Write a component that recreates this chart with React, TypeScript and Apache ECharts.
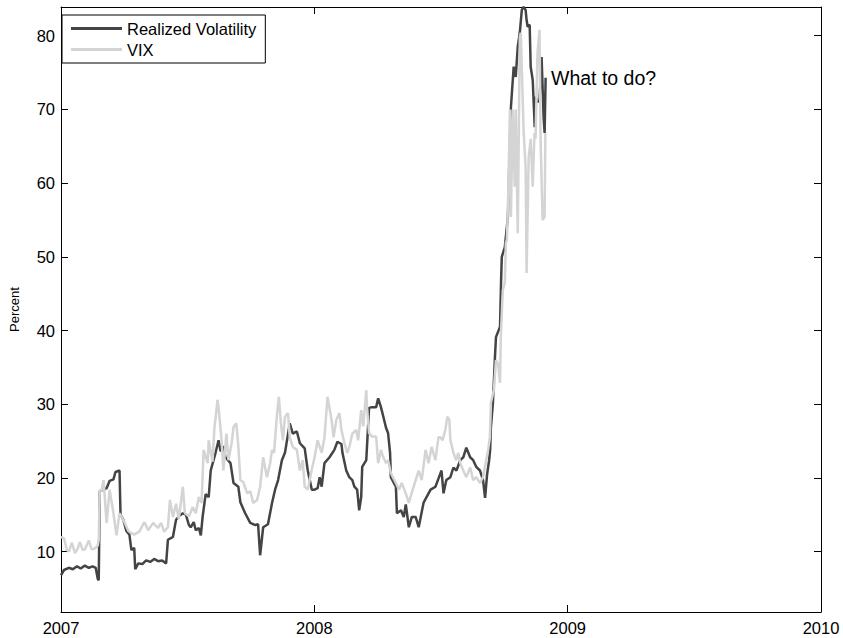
import React, { useEffect, useRef } from "react";
import * as echarts from "echarts";

const seriesNames = ["Realized Volatility", "VIX"];
const yTickValues = [10, 20, 30, 40, 50, 60, 70, 80];
const annotationText = "What to do?";
const yAxisTitle = "Percent";

// Realized volatility: time in decimal years, value in percent
const rvYears = [
  2007.0, 2007.012, 2007.031, 2007.047, 2007.063, 2007.078, 2007.094, 2007.11, 2007.125, 2007.137,
  2007.145, 2007.149, 2007.153, 2007.168, 2007.18, 2007.192, 2007.207, 2007.215, 2007.231, 2007.235,
  2007.246, 2007.258, 2007.27, 2007.278, 2007.289, 2007.293, 2007.305, 2007.321, 2007.336, 2007.352,
  2007.368, 2007.383, 2007.399, 2007.415, 2007.422, 2007.442, 2007.454, 2007.469, 2007.481, 2007.493,
  2007.505, 2007.512, 2007.524, 2007.532, 2007.544, 2007.552, 2007.559, 2007.571, 2007.583, 2007.591,
  2007.61, 2007.622, 2007.63, 2007.641, 2007.649, 2007.669, 2007.681, 2007.7, 2007.708, 2007.727,
  2007.747, 2007.767, 2007.778, 2007.786, 2007.798, 2007.817, 2007.833, 2007.845, 2007.857, 2007.872,
  2007.884, 2007.903, 2007.915, 2007.931, 2007.943, 2007.962, 2007.974, 2007.982, 2007.99, 2008.001,
  2008.013, 2008.021, 2008.029, 2008.04, 2008.06, 2008.079, 2008.091, 2008.107, 2008.111, 2008.126,
  2008.138, 2008.15, 2008.158, 2008.169, 2008.177, 2008.185, 2008.189, 2008.205, 2008.216, 2008.228,
  2008.244, 2008.252, 2008.263, 2008.271, 2008.283, 2008.291, 2008.299, 2008.302, 2008.314, 2008.322,
  2008.326, 2008.342, 2008.353, 2008.361, 2008.373, 2008.385, 2008.4, 2008.412, 2008.42, 2008.431,
  2008.443, 2008.459, 2008.478, 2008.49, 2008.502, 2008.51, 2008.521, 2008.537, 2008.549, 2008.561,
  2008.576, 2008.588, 2008.6, 2008.615, 2008.627, 2008.639, 2008.654, 2008.666, 2008.674, 2008.682,
  2008.69, 2008.694, 2008.697, 2008.705, 2008.713, 2008.717, 2008.733, 2008.737, 2008.74, 2008.752,
  2008.756, 2008.764, 2008.776, 2008.787, 2008.795, 2008.803, 2008.811, 2008.819, 2008.826, 2008.834,
  2008.838, 2008.842, 2008.85, 2008.854, 2008.862, 2008.87, 2008.873, 2008.881, 2008.889, 2008.897,
  2008.905, 2008.909, 2008.913,
];
const rvValues = [
  6.8, 7.5, 7.8, 7.6, 8.0, 7.7, 8.1, 7.8, 8.0, 7.8,
  6.3, 6.1, 18.2, 18.4, 18.6, 19.6, 19.8, 20.8, 21.0, 15.0,
  14.3, 12.8, 12.3, 10.2, 10.5, 7.6, 8.4, 8.3, 8.8, 8.6,
  9.0, 8.7, 8.8, 8.4, 11.6, 12.0, 14.3, 14.9, 15.2, 15.0,
  13.6, 13.3, 14.0, 12.9, 13.2, 12.2, 14.7, 17.8, 17.4, 21.0,
  23.4, 25.1, 23.6, 24.3, 22.8, 22.0, 19.3, 18.8, 16.7, 15.2,
  13.9, 13.6, 13.7, 9.5, 13.3, 13.7, 16.6, 18.4, 19.7, 22.4,
  23.4, 27.4, 26.0, 26.3, 24.7, 24.0, 21.0, 19.7, 18.4, 18.4,
  18.6, 20.1, 18.8, 22.0, 22.8, 23.8, 24.9, 24.6, 23.4, 21.0,
  20.1, 19.7, 18.8, 18.4, 15.6, 17.4, 21.5, 22.4, 29.5, 29.6,
  29.6, 30.8, 29.6, 28.5, 26.8, 26.1, 23.4, 20.1, 19.3, 18.8,
  15.2, 15.6, 14.7, 16.4, 13.3, 14.7, 14.7, 13.3, 14.7, 16.6,
  17.4, 18.4, 18.8, 19.9, 21.0, 17.9, 19.7, 20.1, 21.4, 21.0,
  22.4, 22.8, 24.1, 22.8, 22.4, 21.5, 21.0, 19.7, 17.3, 20.5,
  22.4, 23.8, 26.9, 30.2, 36.4, 39.1, 40.5, 46.5, 50.0, 51.3,
  52.7, 55.4, 70.3, 75.8, 74.4, 78.5, 80.4, 83.5, 83.9, 83.5,
  82.1, 81.2, 81.5, 75.8, 74.0, 67.6, 71.7, 71.0, 71.3, 77.1,
  69.0, 66.8, 74.3,
];

// VIX: time in decimal years, value in percent
const vixYears = [
  2007.0, 2007.012, 2007.023, 2007.031, 2007.043, 2007.055, 2007.066, 2007.074, 2007.086, 2007.094,
  2007.11, 2007.121, 2007.133, 2007.145, 2007.149, 2007.153, 2007.16, 2007.168, 2007.18, 2007.192,
  2007.207, 2007.219, 2007.231, 2007.25, 2007.266, 2007.278, 2007.289, 2007.309, 2007.329, 2007.344,
  2007.364, 2007.383, 2007.395, 2007.407, 2007.422, 2007.43, 2007.442, 2007.454, 2007.465, 2007.481,
  2007.489, 2007.505, 2007.52, 2007.532, 2007.544, 2007.555, 2007.563, 2007.579, 2007.583, 2007.598,
  2007.606, 2007.618, 2007.622, 2007.634, 2007.641, 2007.653, 2007.661, 2007.673, 2007.681, 2007.692,
  2007.7, 2007.708, 2007.72, 2007.735, 2007.747, 2007.759, 2007.774, 2007.786, 2007.798, 2007.813,
  2007.825, 2007.833, 2007.841, 2007.853, 2007.86, 2007.868, 2007.876, 2007.884, 2007.896, 2007.903,
  2007.915, 2007.931, 2007.943, 2007.954, 2007.962, 2007.974, 2007.989, 2008.001, 2008.013, 2008.029,
  2008.04, 2008.052, 2008.068, 2008.076, 2008.087, 2008.099, 2008.107, 2008.119, 2008.13, 2008.138,
  2008.15, 2008.165, 2008.173, 2008.185, 2008.193, 2008.205, 2008.208, 2008.216, 2008.228, 2008.244,
  2008.252, 2008.263, 2008.271, 2008.283, 2008.291, 2008.302, 2008.31, 2008.322, 2008.334, 2008.345,
  2008.361, 2008.373, 2008.384, 2008.4, 2008.412, 2008.424, 2008.439, 2008.451, 2008.463, 2008.478,
  2008.49, 2008.498, 2008.506, 2008.517, 2008.525, 2008.533, 2008.537, 2008.549, 2008.56, 2008.568,
  2008.576, 2008.588, 2008.6, 2008.615, 2008.627, 2008.639, 2008.654, 2008.666, 2008.678, 2008.686,
  2008.693, 2008.697, 2008.709, 2008.717, 2008.725, 2008.733, 2008.736, 2008.744, 2008.752, 2008.756,
  2008.76, 2008.764, 2008.772, 2008.776, 2008.783, 2008.791, 2008.795, 2008.803, 2008.811, 2008.815,
  2008.826, 2008.834, 2008.838, 2008.846, 2008.854, 2008.862, 2008.869, 2008.873, 2008.881, 2008.889,
  2008.893, 2008.901, 2008.909, 2008.912,
];
const vixValues = [
  12.0, 11.8, 10.2, 10.0, 11.2, 9.8, 10.4, 11.3, 10.2, 10.3,
  11.5, 10.3, 10.4, 10.8, 11.6, 18.4, 18.2, 19.7, 13.9, 18.4,
  15.2, 12.2, 15.2, 14.0, 12.8, 12.5, 12.3, 12.7, 14.0, 12.9,
  13.9, 13.2, 13.9, 12.7, 13.3, 17.0, 14.7, 16.5, 14.4, 18.8,
  15.2, 14.8, 16.0, 15.2, 17.4, 16.6, 23.8, 22.0, 25.1, 22.2,
  26.9, 30.6, 29.5, 25.1, 21.0, 26.0, 22.4, 24.6, 26.9, 27.4,
  24.3, 19.7, 19.4, 17.9, 18.2, 16.6, 17.0, 18.8, 22.8, 20.1,
  21.9, 23.8, 23.4, 28.8, 31.0, 27.4, 25.1, 28.3, 28.8, 25.5,
  24.2, 23.8, 21.0, 22.4, 18.8, 18.4, 21.0, 22.8, 25.1, 23.4,
  25.5, 31.0, 27.9, 25.5, 27.9, 28.8, 26.5, 24.7, 23.4, 24.2,
  26.0, 26.5, 25.1, 29.2, 27.0, 31.9, 29.6, 26.1, 25.6, 25.6,
  22.0, 23.8, 22.9, 22.0, 22.4, 20.7, 20.1, 19.3, 18.4, 19.3,
  17.9, 16.6, 17.9, 19.7, 21.0, 19.7, 23.8, 22.0, 24.2, 22.4,
  25.5, 25.5, 25.1, 26.5, 28.3, 27.9, 25.1, 23.4, 22.4, 23.4,
  22.0, 21.0, 20.1, 21.4, 19.7, 20.1, 19.3, 20.1, 22.4, 23.8,
  25.5, 30.2, 32.0, 36.0, 35.5, 32.9, 39.1, 45.5, 46.5, 51.9,
  52.3, 56.4, 70.0, 55.4, 70.0, 59.5, 70.0, 53.2, 79.8, 80.4,
  67.2, 62.2, 47.8, 63.5, 66.0, 59.5, 66.8, 66.0, 77.7, 80.8,
  66.0, 55.0, 55.4, 66.8,
];

const FONT = "'Liberation Sans', Arial, Helvetica, sans-serif";

export default function App() {
  const ref = useRef<HTMLDivElement>(null);

  useEffect(() => {
    if (!ref.current) return;
    const chart = echarts.init(ref.current, undefined, { renderer: "svg" });
    const axisLineStyle = { color: "#000", width: 1 };
    chart.setOption({
      animation: false,
      backgroundColor: "#fff",
      textStyle: { fontFamily: FONT, color: "#000" },
      grid: { left: 54, right: 22, top: 7, bottom: 26 },
      legend: {
        data: seriesNames,
        orient: "vertical",
        left: 62,
        top: 15,
        icon: "rect",
        itemWidth: 51,
        itemHeight: 3,
        itemGap: 4,
        padding: [5, 9, 5, 9],
        borderColor: "#000",
        borderWidth: 1,
        borderRadius: 0,
        backgroundColor: "#fff",
        textStyle: { fontFamily: FONT, fontSize: 16.5, lineHeight: 17, color: "#000", padding: [0, 0, 0, 0] },
      },
      xAxis: [
        {
          type: "value",
          min: 2007,
          max: 2010,
          interval: 1,
          axisLine: { show: true, lineStyle: axisLineStyle },
          axisTick: { show: true, inside: true, length: 7, lineStyle: axisLineStyle },
          axisLabel: { show: true, margin: 7, fontSize: 16.5, color: "#000", fontFamily: FONT, formatter: (v: number) => String(v) },
          splitLine: { show: false },
        },
        {
          type: "value",
          position: "top",
          min: 2007,
          max: 2010,
          interval: 1,
          axisLine: { show: true, lineStyle: axisLineStyle },
          axisTick: { show: true, inside: true, length: 7, lineStyle: axisLineStyle },
          axisLabel: { show: false },
          splitLine: { show: false },
        },
      ],
      yAxis: [
        {
          type: "value",
          min: 1.8,
          max: 83.9,
          name: yAxisTitle,
          nameLocation: "middle",
          nameGap: 40,
          nameTextStyle: { fontSize: 13, color: "#000", fontFamily: FONT },
          axisLine: { show: true, lineStyle: axisLineStyle },
          axisTick: { show: true, inside: true, length: 7, lineStyle: axisLineStyle, customValues: yTickValues },
          axisLabel: { show: true, margin: 6, fontSize: 16.5, color: "#000", fontFamily: FONT, customValues: yTickValues },
          splitLine: { show: false },
        },
        {
          type: "value",
          position: "right",
          min: 1.8,
          max: 83.9,
          axisLine: { show: true, lineStyle: axisLineStyle },
          axisTick: { show: true, inside: true, length: 7, lineStyle: axisLineStyle, customValues: yTickValues },
          axisLabel: { show: false, customValues: yTickValues },
          splitLine: { show: false },
        },
      ],
      series: [
        {
          name: seriesNames[0],
          type: "line",
          color: "#444444",
          data: rvYears.map((t, i) => [t, rvValues[i]]),
          showSymbol: false,
          symbol: "none",
          lineStyle: { color: "#444444", width: 2.5 },
          z: 2,
        },
        {
          name: seriesNames[1],
          type: "line",
          color: "#d4d4d4",
          data: vixYears.map((t, i) => [t, vixValues[i]]),
          showSymbol: false,
          symbol: "none",
          lineStyle: { color: "#d4d4d4", width: 2.5 },
          z: 3,
        },
      ],
      graphic: [
        {
          type: "text",
          left: 551,
          top: 68,
          style: { text: annotationText, fontSize: 19.5, fontFamily: FONT, fill: "#000" },
          z: 10,
        },
      ],
    });
    return () => chart.dispose();
  }, []);

  return <div ref={ref} style={{ position: "absolute", left: 0, top: 0, width: 843, height: 638 }} />;
}
